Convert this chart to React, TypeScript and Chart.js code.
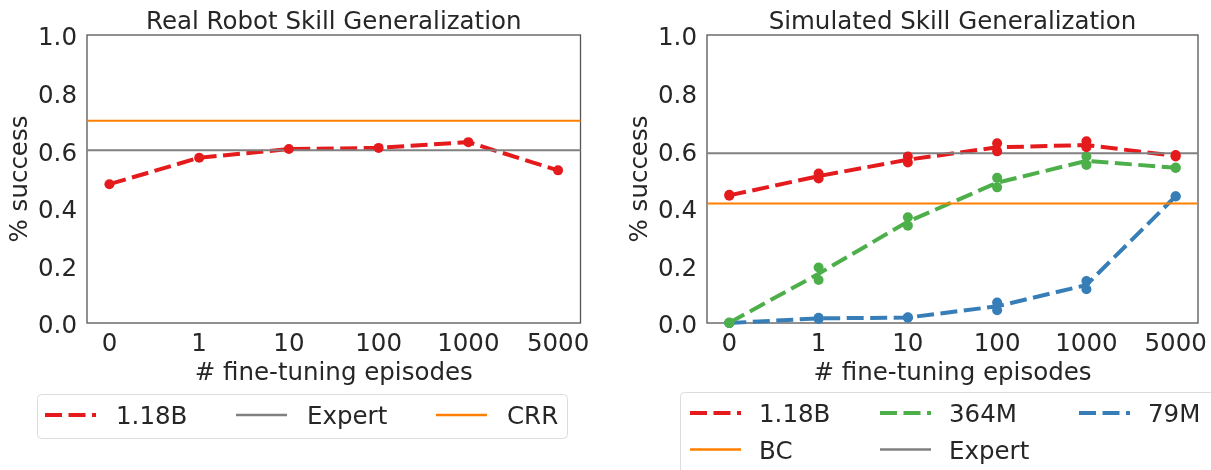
import React, { useEffect, useRef } from "react";
import { Chart, registerables } from "chart.js";
Chart.register(...registerables);

// ---------- data ----------
const X_LABELS = ["0", "1", "10", "100", "1000", "5000"];
const X_POS = [0, 1, 2, 3, 4, 5];
const X_MIN = -0.25;
const X_MAX = 5.25;
const Y_TICKS = [0, 0.2, 0.4, 0.6, 0.8, 1.0];

// Real robot skill generalization
const REAL_118B_RUNS = [[0.482], [0.574], [0.604], [0.608], [0.628], [0.53]];
const REAL_118B_MEAN = [0.482, 0.574, 0.604, 0.608, 0.628, 0.53];
const REAL_EXPERT = 0.6;
const REAL_CRR = 0.702;

// Simulated skill generalization
const SIM_118B_RUNS = [[0.442, 0.445], [0.519, 0.502], [0.578, 0.557], [0.624, 0.596], [0.631, 0.61], [0.578, 0.583]];
const SIM_118B_MEAN = [0.443, 0.51, 0.567, 0.61, 0.618, 0.58];
const SIM_364M_RUNS = [[0.0, 0.002], [0.193, 0.149], [0.367, 0.338], [0.504, 0.471], [0.578, 0.549], [0.538, 0.54]];
const SIM_364M_MEAN = [0.001, 0.171, 0.352, 0.487, 0.563, 0.539];
const SIM_79M_RUNS = [[0.0, 0.0], [0.018, 0.014], [0.018, 0.02], [0.071, 0.044], [0.146, 0.117], [0.439, 0.44]];
const SIM_79M_MEAN = [0.0, 0.016, 0.019, 0.058, 0.132, 0.44];
const SIM_EXPERT = 0.589;
const SIM_BC = 0.415;

// ---------- style ----------
const RED = "#e41a1c";
const GREEN = "#4daf4a";
const BLUE = "#377eb8";
const ORANGE = "#ff7f00";
const GRAY = "#808080";
const TEXT = "#262626";
const FONT = "DejaVu Sans";
const FS = 24.5;
const DASH = [17, 6.5];

const pts = (ys: number[]) => ys.map((y, i) => ({ x: X_POS[i], y }));
const runPts = (runs: number[][]) =>
  runs.flatMap((r, i) => r.map((y) => ({ x: X_POS[i], y })));
const hline = (y: number) => [
  { x: X_MIN, y },
  { x: X_MAX, y },
];

function meanDs(label: string, ys: number[], color: string) {
  return {
    label,
    data: pts(ys),
    borderColor: color,
    backgroundColor: color,
    borderWidth: 4,
    borderDash: DASH,
    borderCapStyle: "butt",
    pointRadius: 0,
    tension: 0,
    clip: false,
    order: 2,
  };
}
function runDs(label: string, runs: number[][], color: string) {
  return {
    label,
    data: runPts(runs),
    showLine: false,
    borderColor: color,
    backgroundColor: color,
    pointRadius: 5,
    pointBorderWidth: 0,
    clip: false,
    order: 0,
  };
}
function hDs(label: string, y: number, color: string) {
  return {
    label,
    data: hline(y),
    borderColor: color,
    backgroundColor: color,
    borderWidth: 2,
    pointRadius: 0,
    clip: false,
    order: 1,
  };
}

const borderPlugin = {
  id: "frame",
  beforeDatasetsDraw(chart: any) {
    const { ctx, chartArea: a } = chart;
    ctx.save();
    ctx.strokeStyle = "#555555";
    ctx.lineWidth = 1.3;
    ctx.strokeRect(a.left, a.top, a.right - a.left, a.bottom - a.top);
    ctx.restore();
  },
};

function makeConfig(title: string, datasets: any[], padRight: number): any {
  const font = { family: FONT, size: FS, weight: "normal" as const };
  return {
    type: "line",
    data: { datasets },
    plugins: [borderPlugin],
    options: {
      animation: false,
      responsive: false,
      maintainAspectRatio: false,
      events: [],
      layout: { padding: { left: 0, right: padRight, top: 0, bottom: 0 } },
      plugins: {
        legend: { display: false },
        tooltip: { enabled: false },
        title: {
          display: true,
          text: title,
          color: TEXT,
          fullSize: false,
          font: { ...font, lineHeight: 1 },
          padding: { top: 10.5, bottom: 0 },
        },
      },
      scales: {
        x: {
          type: "linear",
          min: X_MIN,
          max: X_MAX,
          afterBuildTicks: (s: any) => {
            s.ticks = [X_MIN, ...X_POS, X_MAX].map((v) => ({ value: v }));
          },
          afterFit: (s: any) => {
            s.height = 72;
          },
          grid: { display: false, drawTicks: false },
          border: { display: false },
          ticks: {
            autoSkip: false,
            maxRotation: 0,
            minRotation: 0,
            padding: 7,
            color: TEXT,
            font,
            callback: (v: any) => {
              const i = X_POS.indexOf(Number(v));
              return i >= 0 ? X_LABELS[i] : "";
            },
          },
          title: {
            display: true,
            text: "# fine-tuning episodes",
            color: TEXT,
            font,
            padding: { top: 0, bottom: 7 },
          },
        },
        y: {
          type: "linear",
          min: 0,
          max: 1,
          afterBuildTicks: (s: any) => {
            s.ticks = Y_TICKS.map((v) => ({ value: v }));
          },
          afterFit: (s: any) => {
            s.width = 87;
          },
          grid: { display: false, drawTicks: false },
          border: { display: false },
          ticks: {
            padding: 10,
            labelOffset: 4,
            color: TEXT,
            font,
            callback: (v: any) => Number(v).toFixed(1),
          },
          title: {
            display: true,
            text: "% success",
            color: TEXT,
            font,
            padding: { top: 5.5, bottom: 0 },
          },
        },
      },
    },
  };
}

function ChartCanvas({ config, left, width, height }: any) {
  const ref = useRef<HTMLCanvasElement>(null);
  useEffect(() => {
    if (!ref.current) return;
    const c = new Chart(ref.current, config);
    return () => c.destroy();
  }, []);
  return (
    <canvas
      ref={ref}
      width={width}
      height={height}
      style={{ position: "absolute", left, top: 0, width, height }}
    />
  );
}

function LegendLine({ x, y, color, dashed }: any) {
  return (
    <line
      x1={x}
      x2={x + 51}
      y1={y}
      y2={y}
      stroke={color}
      strokeWidth={dashed ? 4 : 2.5}
      strokeDasharray={dashed ? DASH.join(" ") : undefined}
      strokeLinecap="butt"
    />
  );
}
function LegendText({ x, y, children }: any) {
  return (
    <text x={x} y={y + 9} fontFamily={FONT} fontSize={FS} fill={TEXT}>
      {children}
    </text>
  );
}

export default function App() {
  const realCfg = makeConfig(
    "Real Robot Skill Generalization",
    [
      runDs("1.18B runs", REAL_118B_RUNS, RED),
      meanDs("1.18B", REAL_118B_MEAN, RED),
      hDs("Expert", REAL_EXPERT, GRAY),
      hDs("CRR", REAL_CRR, ORANGE),
    ],
    24.5
  );
  const simCfg = makeConfig(
    "Simulated Skill Generalization",
    [
      runDs("1.18B runs", SIM_118B_RUNS, RED),
      runDs("364M runs", SIM_364M_RUNS, GREEN),
      runDs("79M runs", SIM_79M_RUNS, BLUE),
      meanDs("1.18B", SIM_118B_MEAN, RED),
      meanDs("364M", SIM_364M_MEAN, GREEN),
      meanDs("79M", SIM_79M_MEAN, BLUE),
      hDs("BC", SIM_BC, ORANGE),
      hDs("Expert", SIM_EXPERT, GRAY),
    ],
    13
  );

  const lRow = 415;
  const r1 = 413;
  const r2 = 449.5;
  return (
    <div
      style={{
        position: "fixed",
        left: 0,
        top: 0,
        width: 1211,
        height: 470,
        overflow: "hidden",
        background: "#ffffff",
      }}
    >
      <ChartCanvas config={realCfg} left={0} width={605} height={395} />
      <ChartCanvas config={simCfg} left={620} width={591} height={395} />
      <svg
        width={1211}
        height={470}
        style={{ position: "absolute", left: 0, top: 0, pointerEvents: "none" }}
      >
        {/* left legend */}
        <rect x={37.5} y={394.5} width={530} height={44} rx={4} fill="#ffffff" stroke="#dcdcdc" strokeWidth={1} />
        <LegendLine x={45} y={lRow} color={RED} dashed />
        <LegendText x={116} y={lRow}>1.18B</LegendText>
        <LegendLine x={236} y={lRow} color={GRAY} />
        <LegendText x={307} y={lRow}>Expert</LegendText>
        <LegendLine x={436} y={lRow} color={ORANGE} />
        <LegendText x={507} y={lRow}>CRR</LegendText>

        {/* right legend */}
        <rect x={680.5} y={392.5} width={560} height={100} rx={4} fill="#ffffff" stroke="#dcdcdc" strokeWidth={1} />
        <LegendLine x={690} y={r1} color={RED} dashed />
        <LegendText x={759} y={r1}>1.18B</LegendText>
        <LegendLine x={880} y={r1} color={GREEN} dashed />
        <LegendText x={949} y={r1}>364M</LegendText>
        <LegendLine x={1079} y={r1} color={BLUE} dashed />
        <LegendText x={1148} y={r1}>79M</LegendText>
        <LegendLine x={690} y={r2} color={ORANGE} />
        <LegendText x={759} y={r2}>BC</LegendText>
        <LegendLine x={880} y={r2} color={GRAY} />
        <LegendText x={949} y={r2}>Expert</LegendText>
      </svg>
    </div>
  );
}
